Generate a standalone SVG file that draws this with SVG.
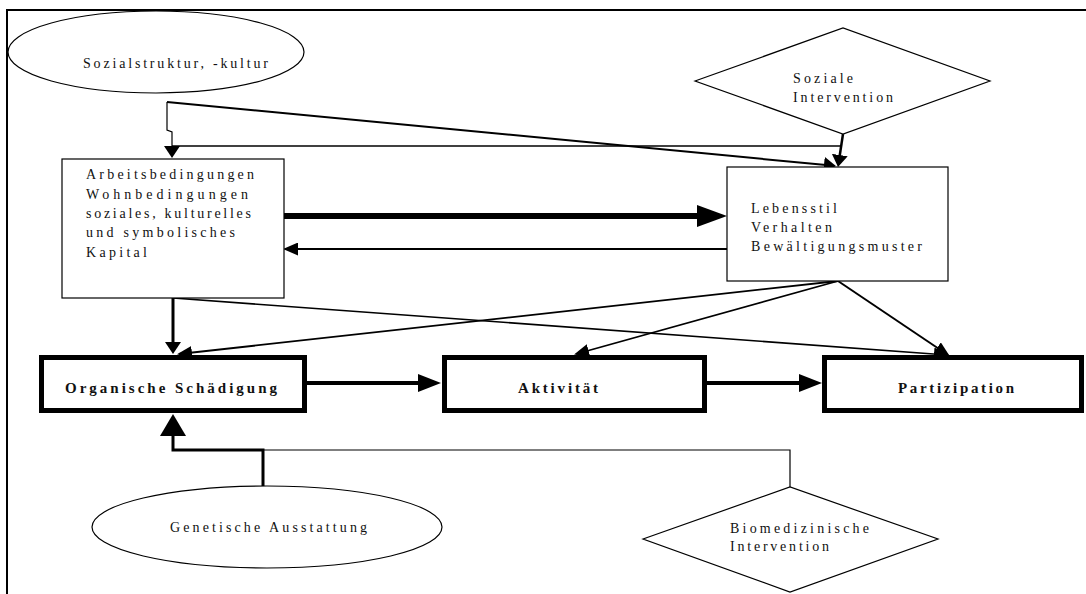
<svg xmlns="http://www.w3.org/2000/svg" width="1086" height="594" viewBox="0 0 1086 594">
  <style>
    .shape { fill: #ffffff; stroke: #000000; stroke-width: 1.2; }
    .big { fill: #ffffff; stroke: #000000; stroke-width: 5; }
    .t { font-family: "Liberation Serif", "Times New Roman", serif; font-size: 14px; fill: #111111; }
    .tb { font-family: "Liberation Serif", "Times New Roman", serif; font-size: 15px; font-weight: bold; fill: #111111; }
    .c { fill: none; stroke: #000000; }
  </style>
  <defs>
    <marker id="ahL" markerUnits="userSpaceOnUse" markerWidth="30" markerHeight="22" refX="2" refY="11" orient="auto">
      <path d="M0,0 L30,11 L0,22 Z" fill="#000000"/>
    </marker>
    <marker id="ahM" markerUnits="userSpaceOnUse" markerWidth="23" markerHeight="18" refX="2" refY="9" orient="auto">
      <path d="M0,0 L23,9 L0,18 Z" fill="#000000"/>
    </marker>
    <marker id="ahG" markerUnits="userSpaceOnUse" markerWidth="22" markerHeight="26" refX="2" refY="13" orient="auto">
      <path d="M0,0 L22,13 L0,26 Z" fill="#000000"/>
    </marker>
    <marker id="ahT" markerUnits="userSpaceOnUse" markerWidth="12" markerHeight="16" refX="2" refY="8" orient="auto">
      <path d="M0,0 L12,8 L0,16 Z" fill="#000000"/>
    </marker>
    <marker id="ahS" markerUnits="userSpaceOnUse" markerWidth="15" markerHeight="13" refX="13" refY="6.5" orient="auto">
      <path d="M0,0 L15,6.5 L0,13 Z" fill="#000000"/>
    </marker>
  </defs>

  <rect x="0" y="0" width="1086" height="594" fill="#ffffff"/>

  <g id="frame">
    <path d="M7,594 L7,10 L1086,10" fill="none" stroke="#000000" stroke-width="2"/>
  </g>

  <g id="connectors">
    <!-- Sozialstruktur to Lebensstil (slanted) -->
    <path class="c" stroke-width="2" d="M167,102 L826,165" marker-end="url(#ahT)"/>
    <!-- Sozialstruktur branch down to Arbeitsbedingungen -->
    <path class="c" stroke-width="1.2" d="M167,102 L167,130 L172,132 L172,148" marker-end="url(#ahT)"/>
    <!-- Soziale Intervention elbow to Arbeitsbedingungen (grey) -->
    <path class="c" stroke="#777777" stroke-width="1.5" d="M841,146 L172,146"/>
    <!-- Soziale Intervention down to Lebensstil -->
    <path class="c" stroke-width="2.5" d="M843,134 L839.5,157" marker-end="url(#ahT)"/>
    <!-- Arbeits to Lebensstil (thick) -->
    <path class="c" stroke-width="6" d="M284,216 L699,216" marker-end="url(#ahL)"/>
    <!-- Lebensstil back to Arbeits -->
    <path class="c" stroke-width="2" d="M727,249 L285,249" marker-end="url(#ahS)"/>
    <!-- Arbeits to Organische -->
    <path class="c" stroke-width="3" d="M173,298 L173,344" marker-end="url(#ahT)"/>
    <!-- Arbeits to Partizipation -->
    <path class="c" stroke-width="1.6" d="M173,298 L947,355" marker-end="url(#ahS)"/>
    <!-- Lebensstil to Organische -->
    <path class="c" stroke-width="1.8" d="M838,281 L179,354" marker-end="url(#ahS)"/>
    <!-- Lebensstil to Aktivitaet -->
    <path class="c" stroke-width="1.8" d="M838,281 L576,354" marker-end="url(#ahS)"/>
    <!-- Lebensstil to Partizipation -->
    <path class="c" stroke-width="2" d="M838,281 L948,355" marker-end="url(#ahS)"/>
    <!-- Organische to Aktivitaet -->
    <path class="c" stroke-width="4" d="M307,383 L420,383" marker-end="url(#ahM)"/>
    <!-- Aktivitaet to Partizipation -->
    <path class="c" stroke-width="4" d="M707,383 L801,383" marker-end="url(#ahM)"/>
    <!-- Genetische to Organische -->
    <path class="c" stroke-width="3" d="M263,486 L263,450 L173,450 L173,434" marker-end="url(#ahG)"/>
    <!-- Biomedizinische elbow -->
    <path class="c" stroke-width="1.2" d="M263,450 L790,450 L790,487"/>
  </g>

  <g id="sozialstruktur">
    <ellipse class="shape" cx="156" cy="52" rx="148" ry="41"/>
    <text class="t" x="83" y="68" textLength="185" lengthAdjust="spacing">Sozialstruktur, -kultur</text>
  </g>

  <g id="soziale-intervention">
    <polygon class="shape" points="695,81 843,28 990,81 843,134"/>
    <text class="t" x="793" y="83" textLength="60" lengthAdjust="spacing">Soziale</text>
    <text class="t" x="793" y="102" textLength="100" lengthAdjust="spacing">Intervention</text>
  </g>

  <g id="arbeitsbedingungen">
    <rect class="shape" x="62" y="159" width="222" height="139"/>
    <text class="t" x="86" y="179" textLength="168" lengthAdjust="spacing">Arbeitsbedingungen</text>
    <text class="t" x="86" y="199" textLength="162" lengthAdjust="spacing">Wohnbedingungen</text>
    <text class="t" x="86" y="218" textLength="165" lengthAdjust="spacing">soziales, kulturelles</text>
    <text class="t" x="86" y="237" textLength="149" lengthAdjust="spacing">und symbolisches</text>
    <text class="t" x="86" y="257" textLength="61" lengthAdjust="spacing">Kapital</text>
  </g>

  <g id="lebensstil">
    <rect class="shape" x="727" y="167" width="221" height="114"/>
    <text class="t" x="751" y="213" textLength="86" lengthAdjust="spacing">Lebensstil</text>
    <text class="t" x="751" y="232" textLength="81" lengthAdjust="spacing">Verhalten</text>
    <text class="t" x="751" y="251" textLength="171" lengthAdjust="spacing">Bewältigungsmuster</text>
  </g>

  <g id="organische-schaedigung">
    <rect class="big" x="41.5" y="357.5" width="263" height="53"/>
    <text class="tb" x="65" y="393" textLength="212" lengthAdjust="spacing">Organische Schädigung</text>
  </g>

  <g id="aktivitaet">
    <rect class="big" x="444.5" y="357.5" width="260" height="53"/>
    <text class="tb" x="518" y="393" textLength="80" lengthAdjust="spacing">Aktivität</text>
  </g>

  <g id="partizipation">
    <rect class="big" x="824.5" y="357.5" width="257" height="53"/>
    <text class="tb" x="898" y="393" textLength="116" lengthAdjust="spacing">Partizipation</text>
  </g>

  <g id="genetische-ausstattung">
    <ellipse class="shape" cx="267" cy="527" rx="175" ry="41"/>
    <text class="t" x="170" y="532" textLength="197" lengthAdjust="spacing">Genetische Ausstattung</text>
  </g>

  <g id="biomedizinische-intervention">
    <polygon class="shape" points="643,539 790,487 938,539 790,592"/>
    <text class="t" x="730" y="533" textLength="139" lengthAdjust="spacing">Biomedizinische</text>
    <text class="t" x="730" y="551" textLength="99" lengthAdjust="spacing">Intervention</text>
  </g>
</svg>
